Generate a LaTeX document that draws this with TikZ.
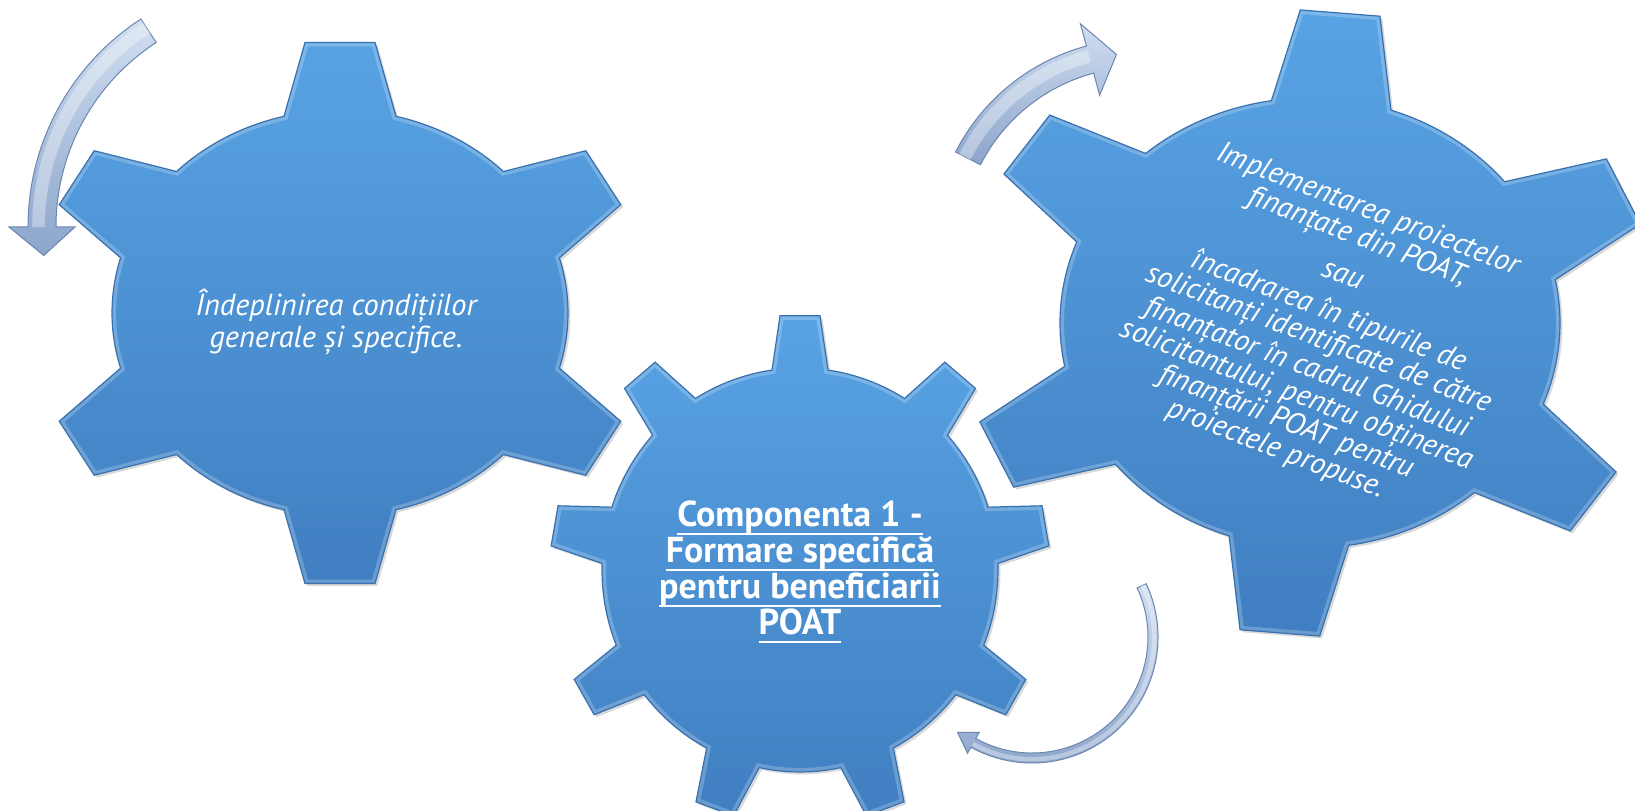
\documentclass[tikz,border=0pt]{standalone}
\usepackage{fontspec}
\setmainfont{PT Sans}
\definecolor{gtop}{RGB}{88,163,228}
\definecolor{gbot}{RGB}{64,127,193}
\definecolor{gedge}{RGB}{56,112,175}
\definecolor{atop}{RGB}{208,222,240}
\definecolor{abot}{RGB}{140,165,203}
\definecolor{aedge}{RGB}{108,134,176}
% #1 cx, #2 cy, #3 teeth, #4 rotation, #5 body radius, #6 outer radius, #7 base half width, #8 tip half width, #9 yscale
\newcommand\gearshape[9]{%
  \pgfmathsetmacro\gB{asin(#7/#5)}%
  \pgfmathsetmacro\gT{asin(#8/#6)}%
  \pgfmathsetmacro\gD{360/#3}%
  \pgfmathtruncatemacro\gN{#3-1}%
  \def\gearP{({#4-\gB}:#5)
    \foreach \k in {0,...,\gN}{
      -- ({#4+\k*\gD-\gB}:#5) -- ({#4+\k*\gD-\gT}:#6) -- ({#4+\k*\gD+\gT}:#6) -- ({#4+\k*\gD+\gB}:#5)
      arc[start angle={#4+\k*\gD+\gB}, end angle={#4+(\k+1)*\gD-\gB}, radius=#5]
    } -- cycle}%
  \path[fill=black, opacity=0.15, transform canvas={xshift=1.2pt,yshift=-1.2pt}, shift={(#1,#2)}, yscale=#9] \gearP;
  \begin{scope}
    \path[clip, shift={(#1,#2)}, yscale=#9] \gearP;
    \path[top color=gtop, bottom color=gbot, shift={(#1,#2)}, yscale=#9] \gearP;
    \path[draw=white, draw opacity=0.22, line width=4pt, shift={(#1,#2)}, yscale=#9] \gearP;
  \end{scope}
  \path[draw=gedge, line width=0.6pt, shift={(#1,#2)}, yscale=#9] \gearP;
}
% #1 cx, #2 cy, #3 r, #4 tail angle, #5 head base angle, #6 tip angle, #7 shaft half width, #8 head half width
\newcommand\arcarrow[8]{%
  \pgfmathsetmacro\aO{#3+#7}%
  \pgfmathsetmacro\aI{#3-#7}%
  \pgfmathsetmacro\aHO{#3+#8}%
  \pgfmathsetmacro\aHI{#3-#8}%
  \pgfmathsetmacro\aM{#3+0.25*#7}%
  \pgfmathsetmacro\aW{0.45*#7}%
  \path[arrowstyle, shift={(#1,#2)}] (#4:\aO) arc[start angle=#4, end angle=#5, radius=\aO]
    -- (#5:\aHO) -- (#6:#3) -- (#5:\aHI) -- (#5:\aI)
    arc[start angle=#5, end angle=#4, radius=\aI] -- cycle;
  \path[draw=white, draw opacity=0.35, line width=\aW pt, shift={(#1,#2)}] (#4:\aM) arc[start angle=#4, end angle=#5, radius=\aM];
}
\newcommand\myul[1]{\setbox0\hbox{#1}\rlap{\rule[-4.2pt]{\wd0}{1.1pt}}\box0}
\tikzset{
  arrowstyle/.style={top color=atop, bottom color=abot, draw=aedge, line width=0.5pt},
  gtext/.style={text=white, align=center, inner sep=0pt}
}
\begin{document}
\begin{tikzpicture}[x=0.5pt,y=0.5pt]
\useasboundingbox (0,0) rectangle (1635,810);
% arrows (behind gears)
\arcarrow{276}{583}{234}{123}{180}{187}{14}{33}
\arcarrow{1140}{564}{193}{153}{105}{97}{14}{37}
\arcarrow{1032}{173}{121}{25}{-119}{-128}{5}{12}
% gears
\gearshape{340}{497}{6}{90}{228}{306}{56}{35}{0.89}
\gearshape{1310}{487}{6}{85}{250}{348}{60}{40}{0.9}
\gearshape{800}{240}{9}{90}{198}{250}{28}{20}{1.02}
% texts
\node[gtext, font=\fontsize{15.2}{15.6}\selectfont\itshape] (tL) at (336,488)
  {Îndeplinirea condițiilor\\generale și specifice.};
\node[gtext, font=\fontsize{18}{16.4}\selectfont\bfseries] (tM) at (800,238)
  {\myul{Componenta 1 -}\\\myul{Formare specifică}\\\myul{pentru beneficiarii}\\\myul{POAT}};
\node[gtext, rotate=-21, font=\fontsize{15}{14.5}\selectfont\itshape] (tR) at (1322,480)
  {Implementarea proiectelor\\finanțate din POAT,\\[6pt]sau\\[5pt]încadrarea în tipurile de\\solicitanți identificate de către\\finanțator în cadrul Ghidului\\solicitantului, pentru obținerea\\finanțării POAT pentru\\proiectele propuse.};
\end{tikzpicture}
\end{document}
